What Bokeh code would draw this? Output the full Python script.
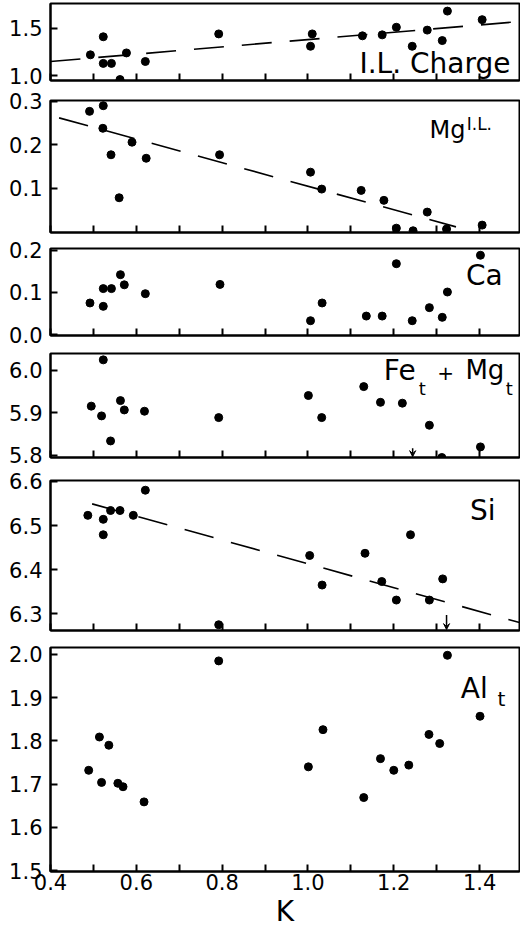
from bokeh.plotting import figure
from bokeh.layouts import column
from bokeh.models import (Range1d, FixedTicker, Label, Arrow, VeeHead,
                          ColumnDataSource, NumeralTickFormatter)
from bokeh.embed import file_html
from bokeh.resources import INLINE

FONT = "DejaVu Sans"

# ---------------- data ----------------
x_ticks = [0.4, 0.6, 0.8, 1.0, 1.2, 1.4]
x_minor = [0.5, 0.7, 0.9, 1.1, 1.3]

k_charge = [0.493, 0.523, 0.523, 0.542, 0.562, 0.577, 0.621, 0.792, 1.010,
            1.006, 1.127, 1.173, 1.206, 1.243, 1.278, 1.313, 1.325, 1.406]
charge = [1.22, 1.41, 1.13, 1.13, 0.96, 1.24, 1.15, 1.44, 1.44,
          1.31, 1.42, 1.43, 1.51, 1.31, 1.48, 1.37, 1.68, 1.59]
charge_fit_k = [0.40, 1.493]
charge_fit = [1.15, 1.57]

k_mg = [0.491, 0.523, 0.522, 0.541, 0.560, 0.590, 0.623, 0.794, 1.006,
        1.032, 1.124, 1.177, 1.206, 1.245, 1.278, 1.323, 1.406]
mg = [0.277, 0.290, 0.238, 0.177, 0.078, 0.206, 0.169, 0.177, 0.137,
      0.098, 0.095, 0.072, 0.008, 0.002, 0.045, 0.006, 0.015]
mg_fit_k = [0.42, 1.345]
mg_fit = [0.262, 0.011]

k_ca = [0.492, 0.523, 0.523, 0.542, 0.563, 0.572, 0.621, 0.795, 1.006,
        1.033, 1.136, 1.173, 1.206, 1.243, 1.283, 1.313, 1.325, 1.402]
ca = [0.075, 0.067, 0.109, 0.109, 0.142, 0.118, 0.097, 0.119, 0.033,
      0.075, 0.044, 0.044, 0.168, 0.033, 0.064, 0.041, 0.101, 0.188]

k_femg = [0.495, 0.523, 0.519, 0.540, 0.563, 0.572, 0.619, 0.792, 1.001,
          1.032, 1.130, 1.169, 1.220, 1.283, 1.312, 1.402]
femg = [5.916, 6.025, 5.893, 5.834, 5.929, 5.907, 5.904, 5.889, 5.941,
        5.889, 5.962, 5.925, 5.923, 5.871, 5.795, 5.820]
femg_arrow_k = [1.244]
femg_arrow_from = [5.817]
femg_arrow_to = [5.797]

k_si = [0.487, 0.523, 0.523, 0.540, 0.562, 0.593, 0.621, 0.792, 1.004,
        1.033, 1.133, 1.172, 1.206, 1.239, 1.283, 1.314]
si = [6.523, 6.514, 6.479, 6.534, 6.534, 6.523, 6.580, 6.275, 6.432,
      6.365, 6.437, 6.373, 6.331, 6.479, 6.331, 6.379]
si_fit_k = [0.497, 1.493]
si_fit = [6.549, 6.280]
si_arrow_k = [1.323]
si_arrow_from = [6.297]
si_arrow_to = [6.264]

k_al = [0.489, 0.514, 0.519, 0.536, 0.557, 0.569, 0.618, 0.792, 1.001,
        1.035, 1.130, 1.169, 1.200, 1.235, 1.282, 1.307, 1.325, 1.401]
al = [1.732, 1.809, 1.704, 1.790, 1.702, 1.694, 1.659, 1.985, 1.740,
      1.826, 1.669, 1.759, 1.732, 1.744, 1.815, 1.794, 1.998, 1.857]


# ---------------- helpers ----------------
def panel(height, top, bottom, yr, yticks, show_x=False):
    p = figure(width=520, height=height, title=None,
               x_range=Range1d(0.4, 1.493), y_range=Range1d(*yr),
               output_backend="svg", toolbar_location=None,
               min_border_left=50, min_border_right=1,
               min_border_top=top, min_border_bottom=bottom)
    p.grid.visible = False
    p.background_fill_color = "white"
    p.border_fill_color = "white"
    p.outline_line_color = "black"
    p.outline_line_width = 2
    p.outline_line_alpha = 1

    ya = p.yaxis[0]
    ya.ticker = FixedTicker(ticks=yticks)
    ya.formatter = NumeralTickFormatter(format="0.0")
    ya.major_tick_in = 7
    ya.major_tick_out = 0
    ya.minor_tick_line_color = None
    ya.major_tick_line_width = 2
    ya.axis_line_width = 2
    ya.major_label_standoff = 8
    ya.major_label_text_font = FONT
    ya.major_label_text_font_size = "21px"
    ya.major_label_text_color = "black"

    xa = p.xaxis[0]
    xa.ticker = FixedTicker(ticks=x_ticks, minor_ticks=x_minor)
    xa.major_tick_in = 7
    xa.major_tick_out = 0
    xa.minor_tick_in = 7
    xa.minor_tick_out = 0
    xa.major_tick_line_width = 2
    xa.minor_tick_line_width = 2
    xa.minor_tick_line_color = "black"
    xa.axis_line_width = 2
    if show_x:
        xa.formatter = NumeralTickFormatter(format="0.0")
        xa.major_label_standoff = 2
        xa.major_label_text_font = FONT
        xa.major_label_text_font_size = "21px"
        xa.major_label_text_color = "black"
        xa.axis_label = "K"
        xa.axis_label_standoff = 2
        xa.axis_label_text_font = FONT
        xa.axis_label_text_font_size = "28px"
        xa.axis_label_text_font_style = "normal"
        xa.axis_label_text_color = "black"
    else:
        xa.major_label_overrides = {t: "" for t in x_ticks}
        xa.major_label_text_font_size = "0px"
        xa.major_label_standoff = 0
    return p


def txt(p, x, y, text, size, align="right"):
    p.add_layout(Label(x=x, y=y, text=text, text_font=FONT,
                       text_font_size=size, text_align=align,
                       text_baseline="middle", text_color="black"))


def dots(p, k, v):
    p.scatter(k, v, size=8, color="black")


def fit(p, k, v):
    p.line(k, v, line_dash="30 18", line_width=1.6, color="black")


def arrows(p, k, y0, y1):
    src = ColumnDataSource(dict(k=k, y0=y0, y1=y1))
    p.add_layout(Arrow(end=VeeHead(size=6, fill_color="black", line_color="black"),
                       x_start="k", y_start="y0", x_end="k", y_end="y1",
                       line_width=1.5, source=src))


# ---------------- panels ----------------
p1 = panel(89, 3, 9, (0.95, 1.76), [1.0, 1.5])
fit(p1, charge_fit_k, charge_fit)
dots(p1, k_charge, charge)
txt(p1, 1.472, 1.134, "I.L. Charge", "28px")

p2 = panel(147, 11, 4, (-0.002, 0.302), [0.1, 0.2, 0.3])
fit(p2, mg_fit_k, mg_fit)
dots(p2, k_mg, mg)
txt(p2, 1.367, 0.233, "Mg", "24px")
txt(p2, 1.370, 0.249, "I.L.", "17px", "left")

p3 = panel(112, 12, 13, (-0.002, 0.204), [0.0, 0.1, 0.2])
dots(p3, k_ca, ca)
txt(p3, 1.454, 0.141, "Ca", "28px")

p4 = panel(121, 5, 12, (5.795, 6.04), [5.8, 5.9, 6.0])
dots(p4, k_femg, femg)
arrows(p4, femg_arrow_k, femg_arrow_from, femg_arrow_to)
txt(p4, 1.251, 6.000, "Fe", "28px")
txt(p4, 1.258, 5.958, "t", "18px", "left")
txt(p4, 1.321, 5.995, "+", "20px", "center")
txt(p4, 1.367, 6.000, "Mg", "26px", "left")
txt(p4, 1.461, 5.958, "t", "18px", "left")

p5 = panel(169, 11, 8, (6.262, 6.602), [6.3, 6.4, 6.5, 6.6])
fit(p5, si_fit_k, si_fit)
dots(p5, k_si, si)
arrows(p5, si_arrow_k, si_arrow_from, si_arrow_to)
txt(p5, 1.437, 6.534, "Si", "28px")

p6 = panel(292, 9, 58, (1.498, 2.016), [1.5, 1.6, 1.7, 1.8, 1.9, 2.0], show_x=True)
dots(p6, k_al, al)
txt(p6, 1.419, 1.922, "Al", "28px")
txt(p6, 1.442, 1.896, "t", "20px", "left")

layout = column(p1, p2, p3, p4, p5, p6, spacing=0)

open("out.html", "w").write(file_html(layout, INLINE))
